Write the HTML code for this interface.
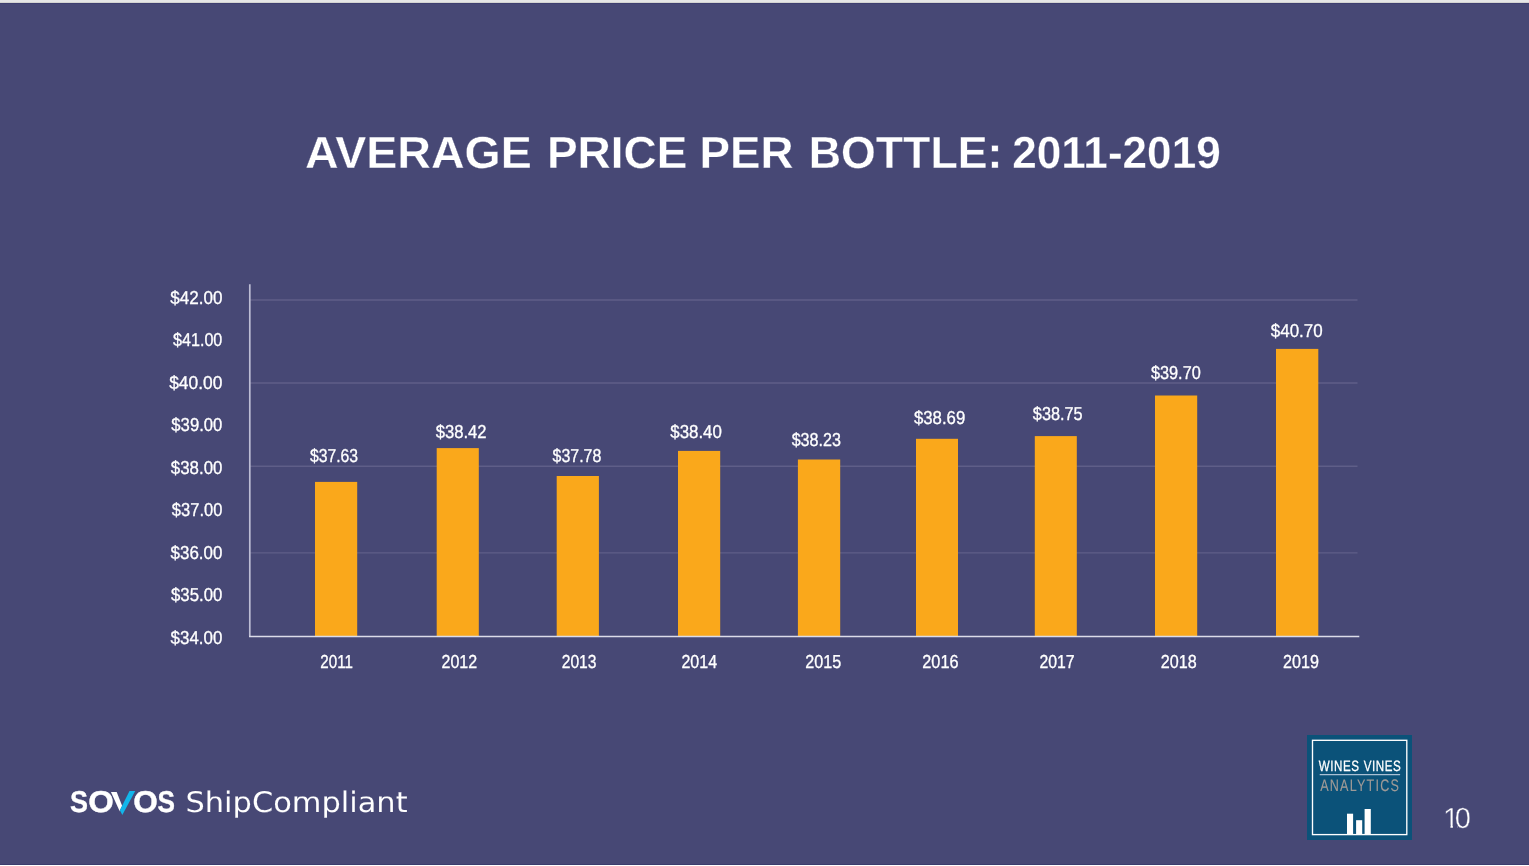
<!DOCTYPE html>
<html lang="en">
<head>
<meta charset="utf-8">
<title>Average Price Per Bottle: 2011-2019</title>
<style>
html,body{margin:0;padding:0;background:#474875;overflow:hidden}
svg{display:block}
text{white-space:pre}
</style>
</head>
<body>
<svg width="1529" height="866" viewBox="0 0 1529 866" text-rendering="geometricPrecision">
<defs><clipPath id="vclip" clipPathUnits="userSpaceOnUse"><polygon points="60,775 137.57,775 114.52,821 60,821"/><polygon points="139,775 200,775 200,821 128,821 131,808 133,802 134.4,797 139,791"/></clipPath><clipPath id="pgclip" clipPathUnits="userSpaceOnUse"><polygon points="1440,800 1475,800 1475,830 1457.7,830 1457.7,824.8 1452.85,824.8 1452.85,830 1450.5,830 1450.5,824.8 1440,824.8"/></clipPath></defs>
<rect x="0" y="0" width="1529" height="866" fill="#474875"/>
<rect x="0" y="0" width="1529" height="3" fill="#e6e6e6"/>
<rect x="0" y="2" width="1529" height="1" fill="#d4d4d2"/>
<rect x="0" y="3" width="1529" height="1" fill="#3f3f70"/>
<rect x="0" y="864" width="1529" height="1" fill="#3b3c6d"/>
<rect x="0" y="865" width="1529" height="1" fill="#ffffff"/>
<line x1="250" y1="300.0" x2="1357.5" y2="300.0" stroke="#5f5e88" stroke-width="1.4"/>
<line x1="250" y1="383.0" x2="1357.5" y2="383.0" stroke="#5f5e88" stroke-width="1.4"/>
<line x1="250" y1="466.2" x2="1357.5" y2="466.2" stroke="#5f5e88" stroke-width="1.4"/>
<line x1="250" y1="552.9" x2="1357.5" y2="552.9" stroke="#5f5e88" stroke-width="1.4"/>
<rect x="315.0" y="481.9" width="42.2" height="154.1" fill="#faa81b"/>
<rect x="436.7" y="448.1" width="42.1" height="187.9" fill="#faa81b"/>
<rect x="556.7" y="476.0" width="42.2" height="160.0" fill="#faa81b"/>
<rect x="678.0" y="450.9" width="42.2" height="185.1" fill="#faa81b"/>
<rect x="797.9" y="459.5" width="42.3" height="176.5" fill="#faa81b"/>
<rect x="916.0" y="438.8" width="42.0" height="197.2" fill="#faa81b"/>
<rect x="1034.8" y="436.1" width="42.0" height="199.9" fill="#faa81b"/>
<rect x="1155.0" y="395.5" width="42.2" height="240.5" fill="#faa81b"/>
<rect x="1276.0" y="348.9" width="42.3" height="287.1" fill="#faa81b"/>
<line x1="249.8" y1="284.2" x2="249.8" y2="636.5" stroke="#bdbdd4" stroke-width="1.7"/>
<line x1="249" y1="636.5" x2="1359.3" y2="636.5" stroke="#dcdce9" stroke-width="1.7"/>
<rect x="1307" y="735" width="105" height="105" fill="#0b5279"/>
<rect x="1312.5" y="740.3" width="94.3" height="94.3" fill="none" stroke="#ffffff" stroke-width="1.35"/>
<line x1="1319.7" y1="774.6" x2="1400.1" y2="774.6" stroke="#a9c0d4" stroke-width="1.1"/>
<rect x="1347" y="813.7" width="6.1" height="20.4" fill="#fff"/>
<rect x="1356.1" y="820.2" width="6.1" height="13.9" fill="#fff"/>
<rect x="1364.6" y="809" width="6.2" height="25.1" fill="#fff"/>
<text font-family="'Liberation Sans', sans-serif" font-size="45.07" font-weight="700" fill="#fff" stroke="#474875" stroke-width="0.35" stroke-linejoin="round"><tspan x="305.09" y="168.38" textLength="226.82" lengthAdjust="spacingAndGlyphs">AVERAGE</tspan> <tspan x="546.95" y="168.38" textLength="140.44" lengthAdjust="spacingAndGlyphs">PRICE</tspan> <tspan x="699.57" y="168.38" textLength="93.98" lengthAdjust="spacingAndGlyphs">PER</tspan> <tspan x="808.63" y="168.38" textLength="193.86" lengthAdjust="spacingAndGlyphs">BOTTLE:</tspan> <tspan x="1012.15" y="168.38" textLength="208.62" lengthAdjust="spacingAndGlyphs">2011-2019</tspan></text>
<text transform="translate(170.15 303.94) scale(0.9137 1.000)" font-family="'Liberation Sans', sans-serif" font-size="18.69" fill="#fff" stroke="#fff" stroke-width="0.32" stroke-linejoin="round">$42.00</text>
<text transform="translate(172.94 346.44) scale(0.8646 1.000)" font-family="'Liberation Sans', sans-serif" font-size="18.69" fill="#fff" stroke="#fff" stroke-width="0.32" stroke-linejoin="round">$41.00</text>
<text transform="translate(169.15 388.94) scale(0.9313 1.000)" font-family="'Liberation Sans', sans-serif" font-size="18.69" fill="#fff" stroke="#fff" stroke-width="0.32" stroke-linejoin="round">$40.00</text>
<text transform="translate(171.34 431.44) scale(0.8927 1.000)" font-family="'Liberation Sans', sans-serif" font-size="18.69" fill="#fff" stroke="#fff" stroke-width="0.32" stroke-linejoin="round">$39.00</text>
<text transform="translate(170.84 473.94) scale(0.9014 1.000)" font-family="'Liberation Sans', sans-serif" font-size="18.69" fill="#fff" stroke="#fff" stroke-width="0.32" stroke-linejoin="round">$38.00</text>
<text transform="translate(171.84 516.44) scale(0.8839 1.000)" font-family="'Liberation Sans', sans-serif" font-size="18.69" fill="#fff" stroke="#fff" stroke-width="0.32" stroke-linejoin="round">$37.00</text>
<text transform="translate(170.55 558.94) scale(0.9067 1.000)" font-family="'Liberation Sans', sans-serif" font-size="18.69" fill="#fff" stroke="#fff" stroke-width="0.32" stroke-linejoin="round">$36.00</text>
<text transform="translate(171.04 601.44) scale(0.8979 1.000)" font-family="'Liberation Sans', sans-serif" font-size="18.69" fill="#fff" stroke="#fff" stroke-width="0.32" stroke-linejoin="round">$35.00</text>
<text transform="translate(170.55 643.94) scale(0.9067 1.000)" font-family="'Liberation Sans', sans-serif" font-size="18.69" fill="#fff" stroke="#fff" stroke-width="0.32" stroke-linejoin="round">$34.00</text>
<text transform="translate(309.93 461.84) scale(0.8426 1.000)" font-family="'Liberation Sans', sans-serif" font-size="18.69" fill="#fff" stroke="#fff" stroke-width="0.32" stroke-linejoin="round">$37.63</text>
<text transform="translate(435.64 437.74) scale(0.8902 1.000)" font-family="'Liberation Sans', sans-serif" font-size="18.69" fill="#fff" stroke="#fff" stroke-width="0.32" stroke-linejoin="round">$38.42</text>
<text transform="translate(552.54 462.34) scale(0.8532 1.000)" font-family="'Liberation Sans', sans-serif" font-size="18.69" fill="#fff" stroke="#fff" stroke-width="0.32" stroke-linejoin="round">$37.78</text>
<text transform="translate(670.24 437.54) scale(0.9032 1.000)" font-family="'Liberation Sans', sans-serif" font-size="18.69" fill="#fff" stroke="#fff" stroke-width="0.32" stroke-linejoin="round">$38.40</text>
<text transform="translate(791.64 445.84) scale(0.8620 1.000)" font-family="'Liberation Sans', sans-serif" font-size="18.69" fill="#fff" stroke="#fff" stroke-width="0.32" stroke-linejoin="round">$38.23</text>
<text transform="translate(913.94 424.04) scale(0.8973 1.000)" font-family="'Liberation Sans', sans-serif" font-size="18.69" fill="#fff" stroke="#fff" stroke-width="0.32" stroke-linejoin="round">$38.69</text>
<text transform="translate(1032.84 420.44) scale(0.8708 1.000)" font-family="'Liberation Sans', sans-serif" font-size="18.69" fill="#fff" stroke="#fff" stroke-width="0.32" stroke-linejoin="round">$38.75</text>
<text transform="translate(1150.94 378.84) scale(0.8716 1.000)" font-family="'Liberation Sans', sans-serif" font-size="18.69" fill="#fff" stroke="#fff" stroke-width="0.32" stroke-linejoin="round">$39.70</text>
<text transform="translate(1270.85 336.94) scale(0.9067 1.000)" font-family="'Liberation Sans', sans-serif" font-size="18.69" fill="#fff" stroke="#fff" stroke-width="0.32" stroke-linejoin="round">$40.70</text>
<text transform="translate(320.32 668.04) scale(0.8043 1.000)" font-family="'Liberation Sans', sans-serif" font-size="18.83" fill="#fff" stroke="#fff" stroke-width="0.32" stroke-linejoin="round">2011</text>
<text transform="translate(441.49 668.04) scale(0.8505 1.000)" font-family="'Liberation Sans', sans-serif" font-size="18.83" fill="#fff" stroke="#fff" stroke-width="0.32" stroke-linejoin="round">2012</text>
<text transform="translate(561.70 668.04) scale(0.8308 1.000)" font-family="'Liberation Sans', sans-serif" font-size="18.83" fill="#fff" stroke="#fff" stroke-width="0.32" stroke-linejoin="round">2013</text>
<text transform="translate(681.38 668.04) scale(0.8517 1.000)" font-family="'Liberation Sans', sans-serif" font-size="18.83" fill="#fff" stroke="#fff" stroke-width="0.32" stroke-linejoin="round">2014</text>
<text transform="translate(805.28 668.04) scale(0.8579 1.000)" font-family="'Liberation Sans', sans-serif" font-size="18.83" fill="#fff" stroke="#fff" stroke-width="0.32" stroke-linejoin="round">2015</text>
<text transform="translate(922.27 668.04) scale(0.8653 1.000)" font-family="'Liberation Sans', sans-serif" font-size="18.83" fill="#fff" stroke="#fff" stroke-width="0.32" stroke-linejoin="round">2016</text>
<text transform="translate(1039.39 668.04) scale(0.8407 1.000)" font-family="'Liberation Sans', sans-serif" font-size="18.83" fill="#fff" stroke="#fff" stroke-width="0.32" stroke-linejoin="round">2017</text>
<text transform="translate(1160.68 668.04) scale(0.8579 1.000)" font-family="'Liberation Sans', sans-serif" font-size="18.83" fill="#fff" stroke="#fff" stroke-width="0.32" stroke-linejoin="round">2018</text>
<text transform="translate(1283.08 668.04) scale(0.8579 1.000)" font-family="'Liberation Sans', sans-serif" font-size="18.83" fill="#fff" stroke="#fff" stroke-width="0.32" stroke-linejoin="round">2019</text>
<g clip-path="url(#vclip)">
<text font-family="'Liberation Sans', sans-serif" font-size="30.0" font-weight="700" fill="#fff" stroke="#fff" stroke-width="0.4" stroke-linejoin="round"><tspan x="70.06" y="812.30" textLength="17.97" lengthAdjust="spacingAndGlyphs">S</tspan><tspan x="88.29" y="812.30" textLength="25.50" lengthAdjust="spacingAndGlyphs">O</tspan><tspan x="110.80" y="812.50" textLength="24.97" lengthAdjust="spacingAndGlyphs" font-size="30.57" stroke="none">V</tspan><tspan x="133.22" y="812.30" textLength="24.54" lengthAdjust="spacingAndGlyphs">O</tspan><tspan x="157.57" y="812.30" textLength="17.45" lengthAdjust="spacingAndGlyphs">S</tspan></text>
</g>
<text transform="translate(185.45 811.54) scale(1.0745 1.000)" font-family="'DejaVu Sans', 'Liberation Sans', sans-serif" font-size="28.35" fill="#fff" stroke="#474875" stroke-width="0.08" stroke-linejoin="round">ShipCompliant</text>
<text font-family="'Liberation Sans', sans-serif" font-size="15.0" fill="#fff" stroke="#fff" stroke-width="0.3" stroke-linejoin="round" letter-spacing="0.7"><tspan x="1318.82" y="770.75" textLength="40.70" lengthAdjust="spacingAndGlyphs">WINES</tspan> <tspan x="1363.72" y="770.75" textLength="37.50" lengthAdjust="spacingAndGlyphs">VINES</tspan></text>
<text transform="translate(1320.15 790.54) scale(0.7558 1.000)" font-family="'Liberation Sans', sans-serif" font-size="16.69" fill="#9e9a97" stroke="#9e9a97" stroke-width="0.12" stroke-linejoin="round" letter-spacing="1.6">ANALYTICS</text>
<g clip-path="url(#pgclip)"><text x="1443.0" y="828.0" dx="0 -4.5" font-family="'Liberation Sans', sans-serif" font-size="29.1" fill="#fff" stroke="#474875" stroke-width="0.4">10</text></g>
<polygon points="129.5,791.1 135.25,791.1 122.3,815.1 119.9,810.25" fill="#12b5ea"/>
</svg>
</body>
</html>
